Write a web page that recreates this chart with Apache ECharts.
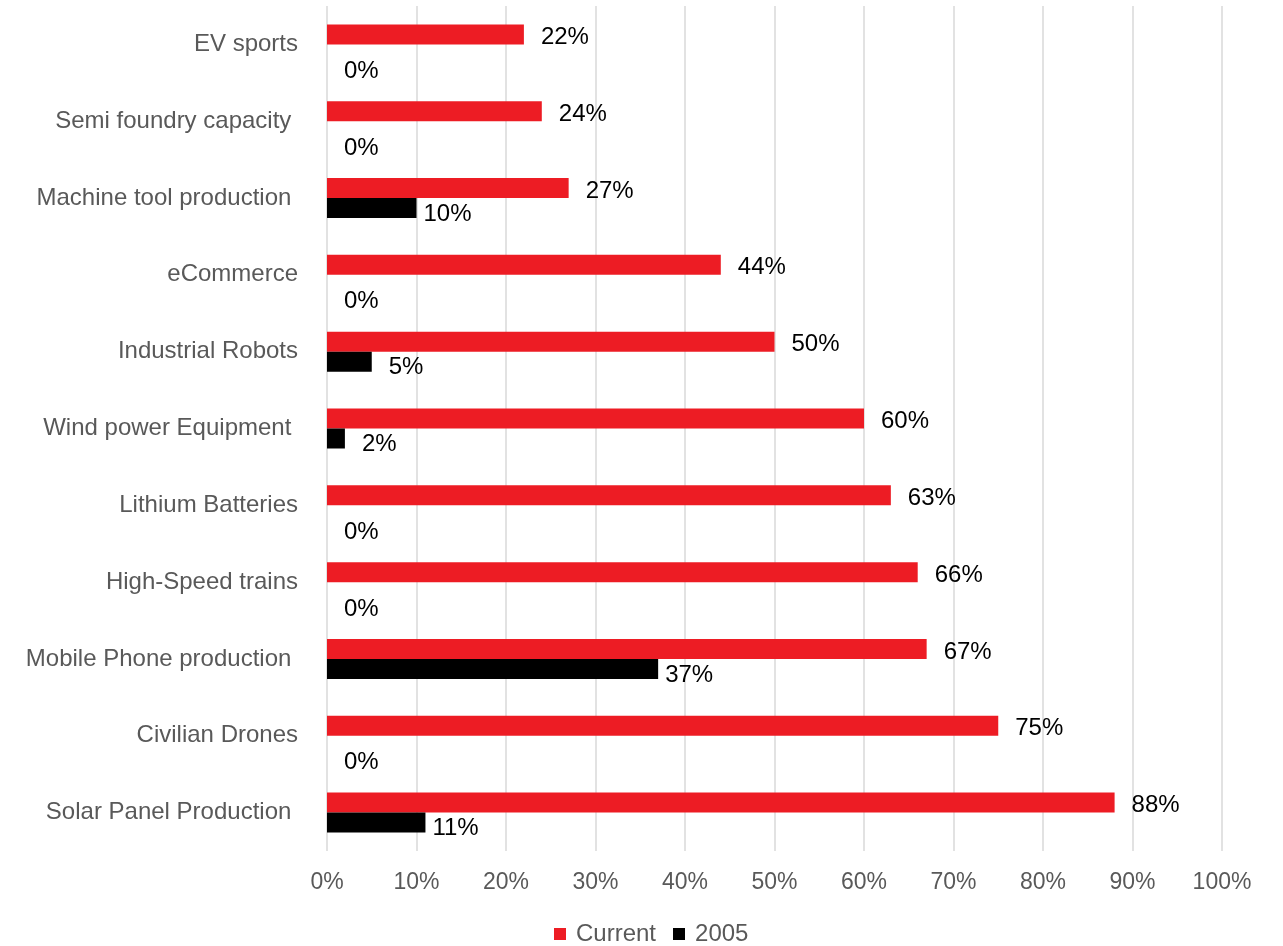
<!DOCTYPE html>
<html>
<head>
<meta charset="utf-8">
<script src="https://cdn.jsdelivr.net/npm/echarts@6/dist/echarts.min.js"></script>
<style>
html,body{margin:0;padding:0;background:#fff;}
#chart{width:1283px;height:946px;}
</style>
</head>
<body>
<div id="chart"></div>
<script>
const categories = [
  "EV sports",
  "Semi foundry capacity ",
  "Machine tool production ",
  "eCommerce",
  "Industrial Robots",
  "Wind power Equipment ",
  "Lithium Batteries",
  "High-Speed trains",
  "Mobile Phone production ",
  "Civilian Drones",
  "Solar Panel Production "
];
const currentValues = [22, 24, 27, 44, 50, 60, 63, 66, 67, 75, 88];
const values2005 = [0, 0, 10, 0, 5, 2, 0, 0, 37, 0, 11];
const seriesNames = ["Current", "2005"];
const xTicks = [0, 10, 20, 30, 40, 50, 60, 70, 80, 90, 100];

const FONT = "'Liberation Sans', Arial, sans-serif";

const blackData = values2005.map(v => ({
  value: v,
  label: {
    distance: v >= 10 ? 7 : 17,
    offset: v === 0 ? [0, 17] : [0, 6]
  }
}));

const chart = echarts.init(document.getElementById('chart'), null, {renderer: 'canvas'});
chart.setOption({
  backgroundColor: '#ffffff',
  animation: false,
  grid: {left: 327, right: 61, top: 6, bottom: 95, containLabel: false},
  legend: {
    data: seriesNames,
    left: 554,
    top: 922,
    padding: 0,
    itemWidth: 12,
    itemHeight: 12,
    itemGap: 17,
    icon: 'rect',
    textStyle: {fontFamily: FONT, fontSize: 24, color: '#595959', padding: [0, 0, 0, 5]}
  },
  xAxis: {
    type: 'value',
    min: 0,
    max: 100,
    interval: 10,
    axisLine: {show: false},
    axisTick: {show: false},
    splitLine: {show: true, lineStyle: {color: '#D9D9D9', width: 1.5}},
    axisLabel: {
      margin: 20,
      fontFamily: FONT,
      fontSize: 23,
      color: '#595959',
      formatter: v => xTicks.includes(v) ? v + '%' : ''
    }
  },
  yAxis: {
    type: 'category',
    data: categories,
    inverse: true,
    axisLine: {show: false},
    axisTick: {show: false},
    axisLabel: {margin: 29, fontFamily: FONT, fontSize: 24, color: '#595959'}
  },
  series: [
    {
      name: seriesNames[0],
      type: 'bar',
      data: currentValues,
      barWidth: 20,
      barGap: '0%',
      itemStyle: {color: '#ED1C24'},
      label: {
        show: true, position: 'right', distance: 17, offset: [0, 3],
        fontFamily: FONT, fontSize: 24, color: '#000000',
        formatter: p => p.value + '%'
      }
    },
    {
      name: seriesNames[1],
      type: 'bar',
      data: blackData,
      barWidth: 20,
      barGap: '0%',
      itemStyle: {color: '#000000'},
      label: {
        show: true, position: 'right',
        fontFamily: FONT, fontSize: 24, color: '#000000',
        formatter: p => p.value + '%'
      }
    }
  ]
});
</script>
</body>
</html>
